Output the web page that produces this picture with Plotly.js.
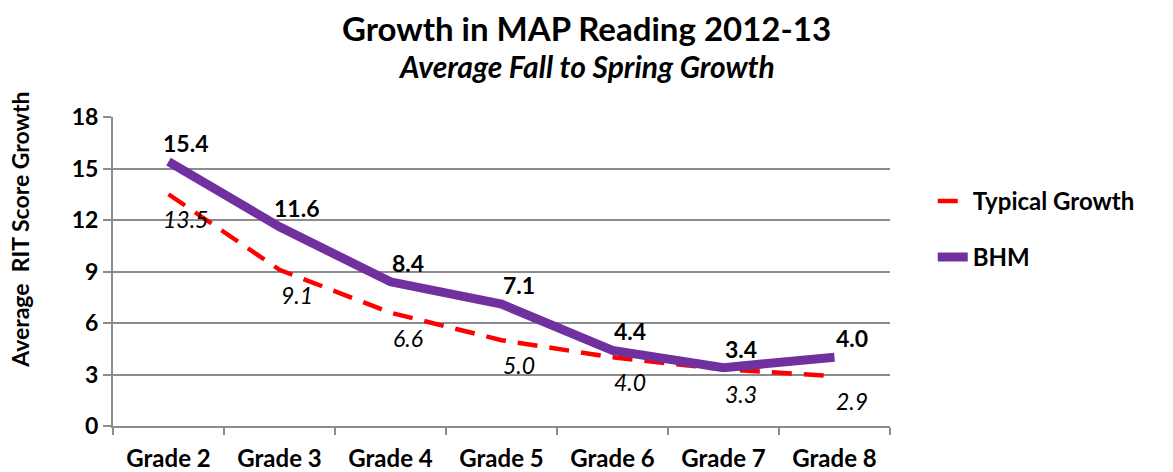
<!DOCTYPE html>
<html>
<head>
<meta charset="utf-8">
<script src="https://cdn.plot.ly/plotly-3.0.1.min.js"></script>
<style>
  html, body { margin: 0; padding: 0; background: #fff; }
  #chart { width: 1173px; height: 472px; }
</style>
</head>
<body>
<div id="chart"></div>
<script>
// Grades on the category axis
const grades = ["Grade 2", "Grade 3", "Grade 4", "Grade 5", "Grade 6", "Grade 7", "Grade 8"];

// Average fall to spring RIT growth
const typicalGrowth = [13.5, 9.1, 6.6, 5.0, 4.0, 3.3, 2.9];
const bhmGrowth = [15.4, 11.6, 8.4, 7.1, 4.4, 3.4, 4.0];

const yTicks = [0, 3, 6, 9, 12, 15, 18];

const FONT = "Lato, 'Open Sans', sans-serif";

const traceTypical = {
  x: grades,
  y: typicalGrowth,
  mode: "lines",
  name: "Typical Growth",
  legendgroup: "a",
  line: { color: "#ff0000", width: 4.5, dash: "20px,12px" }
};

const traceBHM = {
  x: grades,
  y: bhmGrowth,
  mode: "lines",
  name: "BHM",
  legendgroup: "b",
  line: { color: "#7030a0", width: 9 }
};

// value labels: BHM above right, typical below right
const labels = [];
grades.forEach((g, i) => {
  labels.push({
    x: g, y: bhmGrowth[i], xref: "x", yref: "y",
    text: "<b>" + bhmGrowth[i].toFixed(1) + "</b>",
    showarrow: false, xshift: 17, yshift: 19,
    font: { family: FONT, size: 23, color: "#000" }
  });
  labels.push({
    x: g, y: typicalGrowth[i], xref: "x", yref: "y",
    text: "<i>" + typicalGrowth[i].toFixed(1) + "</i>",
    showarrow: false, xshift: 17, yshift: -25,
    font: { family: FONT, size: 23, color: "#000" }
  });
});

// titles (centred on the page, not the plot)
labels.push({
  xref: "paper", yref: "paper", x: 0.609, y: 1, xanchor: "center", yanchor: "middle",
  text: "<b>Growth in MAP Reading 2012-13</b>", showarrow: false, yshift: 89,
  font: { family: FONT, size: 33, color: "#000" }
});
labels.push({
  xref: "paper", yref: "paper", x: 0.609, y: 1, xanchor: "center", yanchor: "middle",
  text: "<b><i>Average Fall to Spring Growth</i></b>", showarrow: false, yshift: 51,
  font: { family: FONT, size: 30, color: "#000" }
});
// y axis title
labels.push({
  xref: "paper", yref: "paper", x: -0.12, y: 0.634, xanchor: "center", yanchor: "middle",
  text: "<b>Average  RIT Score Growth</b>", showarrow: false, textangle: -90,
  font: { family: FONT, size: 23, color: "#000" }
});

const layout = {
  width: 1173,
  height: 472,
  paper_bgcolor: "#fff",
  plot_bgcolor: "#fff",
  font: { family: FONT, color: "#000" },
  margin: { l: 113, r: 283, t: 117, b: 46 },
  annotations: labels,
  xaxis: {
    type: "category",
    range: [-0.5, 6.5],
    tickson: "boundaries",
    ticks: "outside",
    ticklen: 7,
    tickcolor: "#8c8c8c",
    tickwidth: 2,
    ticklabelstandoff: 10,
    showline: true,
    linecolor: "#8c8c8c",
    linewidth: 2,
    showgrid: false,
    tickfont: { family: FONT, size: 24, color: "#000", weight: "bold" }
  },
  yaxis: {
    range: [0, 18],
    tickvals: yTicks,
    ticks: "outside",
    ticklen: 8,
    tickcolor: "#8c8c8c",
    tickwidth: 2,
    showline: true,
    linecolor: "#8c8c8c",
    linewidth: 2,
    showgrid: true,
    gridcolor: "#8c8c8c",
    gridwidth: 2,
    zeroline: false,
    tickfont: { family: FONT, size: 23, color: "#000", weight: "bold" }
  },
  legend: {
    x: 1.055,
    xanchor: "left",
    y: 0.8,
    yanchor: "top",
    traceorder: "grouped",
    tracegroupgap: 22,
    font: { family: FONT, size: 24, color: "#000", weight: "bold" },
    bgcolor: "rgba(0,0,0,0)"
  },
  showlegend: true
};

Plotly.newPlot("chart", [traceTypical, traceBHM], layout, { displayModeBar: false, staticPlot: true });
</script>
</body>
</html>
